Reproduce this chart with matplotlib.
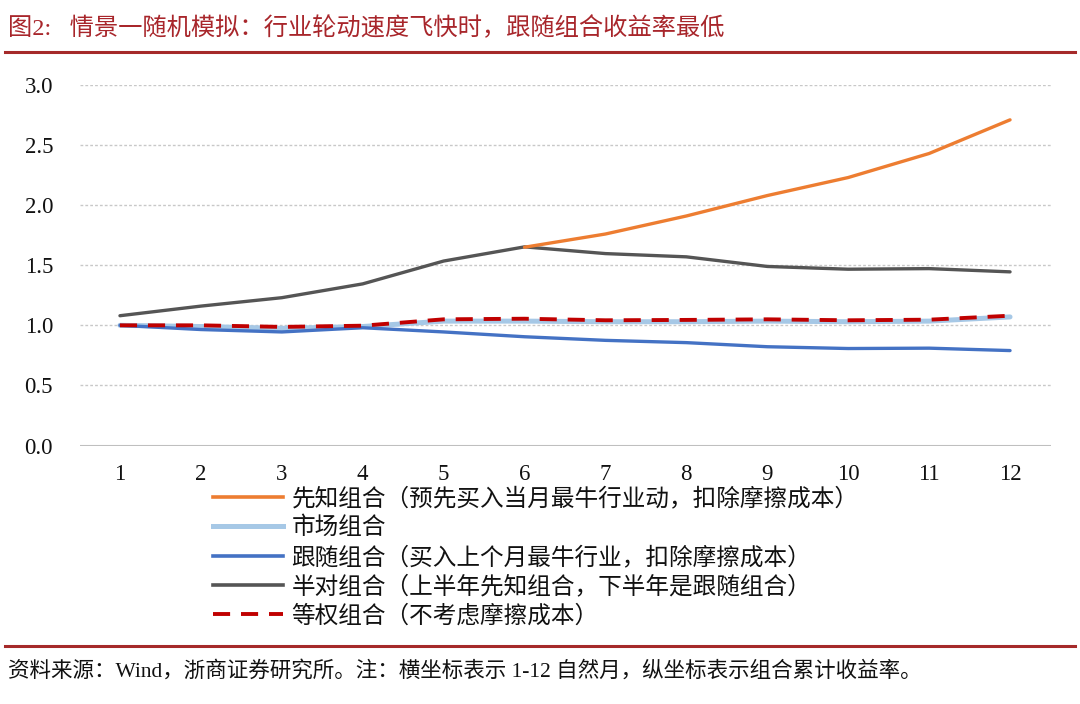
import matplotlib
matplotlib.use("Agg")
import matplotlib.pyplot as plt
from matplotlib.lines import Line2D

plt.rcParams['font.family'] = ['Liberation Serif', 'Noto Sans CJK SC', 'DejaVu Sans']

months = [1, 2, 3, 4, 5, 6, 7, 8, 9, 10, 11, 12]
month_labels = [str(m) for m in months]
yticks = [0.0, 0.5, 1.0, 1.5, 2.0, 2.5, 3.0]

foresight_x = [6, 7, 8, 9, 10, 11, 12]
foresight = [1.65, 1.76, 1.91, 2.08, 2.23, 2.43, 2.71]
market = [1.00, 0.99, 0.975, 0.99, 1.035, 1.035, 1.03, 1.03, 1.035, 1.03, 1.035, 1.07]
follow = [1.00, 0.965, 0.945, 0.98, 0.945, 0.905, 0.875, 0.856, 0.822, 0.807, 0.81, 0.79]
half = [1.08, 1.16, 1.23, 1.345, 1.535, 1.653, 1.597, 1.57, 1.49, 1.467, 1.472, 1.445]
equal = [1.00, 1.00, 0.987, 0.997, 1.05, 1.055, 1.042, 1.045, 1.05, 1.042, 1.047, 1.08]

labels = [
    "先知组合（预先买入当月最牛行业动，扣除摩擦成本）",
    "市场组合",
    "跟随组合（买入上个月最牛行业，扣除摩擦成本）",
    "半对组合（上半年先知组合，下半年是跟随组合）",
    "等权组合（不考虑摩擦成本）",
]
title = "图2:   情景一随机模拟：行业轮动速度飞快时，跟随组合收益率最低"
source = "资料来源：Wind，浙商证券研究所。注：横坐标表示 1-12 自然月，纵坐标表示组合累计收益率。"

c_orange = "#ED7D31"
c_light = "#A6C8E6"
c_blue = "#4472C4"
c_gray = "#555555"
c_red = "#C00000"
c_title = "#A8262B"
dash = (0, (4.4, 2.8))

W, H = 1080, 704
fig = plt.figure(figsize=(W / 100, H / 100), dpi=100)
fig.patch.set_facecolor("white")

ax = fig.add_axes([79.5 / W, 1 - 445.5 / H, 971 / W, 360.5 / H])
ax.set_xlim(0.5, 12.5)
ax.set_ylim(0, 3.0)

for y in yticks[1:]:
    ax.axhline(y, color="#C8C8C8", lw=1.0, ls=(0, (2, 1.5)), zorder=0)
ax.axhline(0, color="#BFBFBF", lw=1.5, zorder=0)

ax.plot(months, market, color=c_light, lw=3.6, solid_capstyle="round", zorder=2)
ax.plot(months, follow, color=c_blue, lw=2.4, solid_capstyle="round", zorder=3)
ax.plot(months, half, color=c_gray, lw=2.4, solid_capstyle="round", zorder=3)
ax.plot(foresight_x, foresight, color=c_orange, lw=2.4, solid_capstyle="round", zorder=4)
ax.plot(months, equal, color=c_red, lw=2.8, ls=dash, zorder=5)

for s in ax.spines.values():
    s.set_visible(False)
ax.set_xticks(months)
ax.set_xticklabels(month_labels)
ax.set_yticks(yticks)
ax.set_yticklabels([f"{v:.1f}" for v in yticks])
ax.tick_params(axis="both", length=0, labelsize=16.5, colors="#111111")
ax.tick_params(axis="x", pad=13)
ax.tick_params(axis="y", pad=19)

# Title and rules
fig.text(8 / W, 1 - 28 / H, title, color=c_title, fontsize=17.5, va="center", ha="left")
fig.add_artist(Line2D([5 / W, 1075 / W], [1 - 52 / H, 1 - 52 / H], color="#A52A2A", lw=2.2))
fig.add_artist(Line2D([5 / W, 1075 / W], [1 - 646 / H, 1 - 646 / H], color="#A52A2A", lw=2.2))
fig.text(8 / W, 1 - 671 / H, source, color="#111111", fontsize=15.5, va="center", ha="left")

# Legend
handles = [
    Line2D([], [], color=c_orange, lw=2.6),
    Line2D([], [], color=c_light, lw=3.6),
    Line2D([], [], color=c_blue, lw=2.6),
    Line2D([], [], color=c_gray, lw=2.6),
    Line2D([], [], color=c_red, lw=2.8, ls=dash),
]
leg = fig.legend(handles, labels, loc="upper left", bbox_to_anchor=(213 / W, 1 - 487 / H),
                 frameon=False, fontsize=17, handlelength=2.96, handletextpad=0.36,
                 labelspacing=0.28, borderaxespad=0, borderpad=0)
for t in leg.get_texts():
    t.set_color("#111111")

fig.savefig("out.png", dpi=100, facecolor="white")
